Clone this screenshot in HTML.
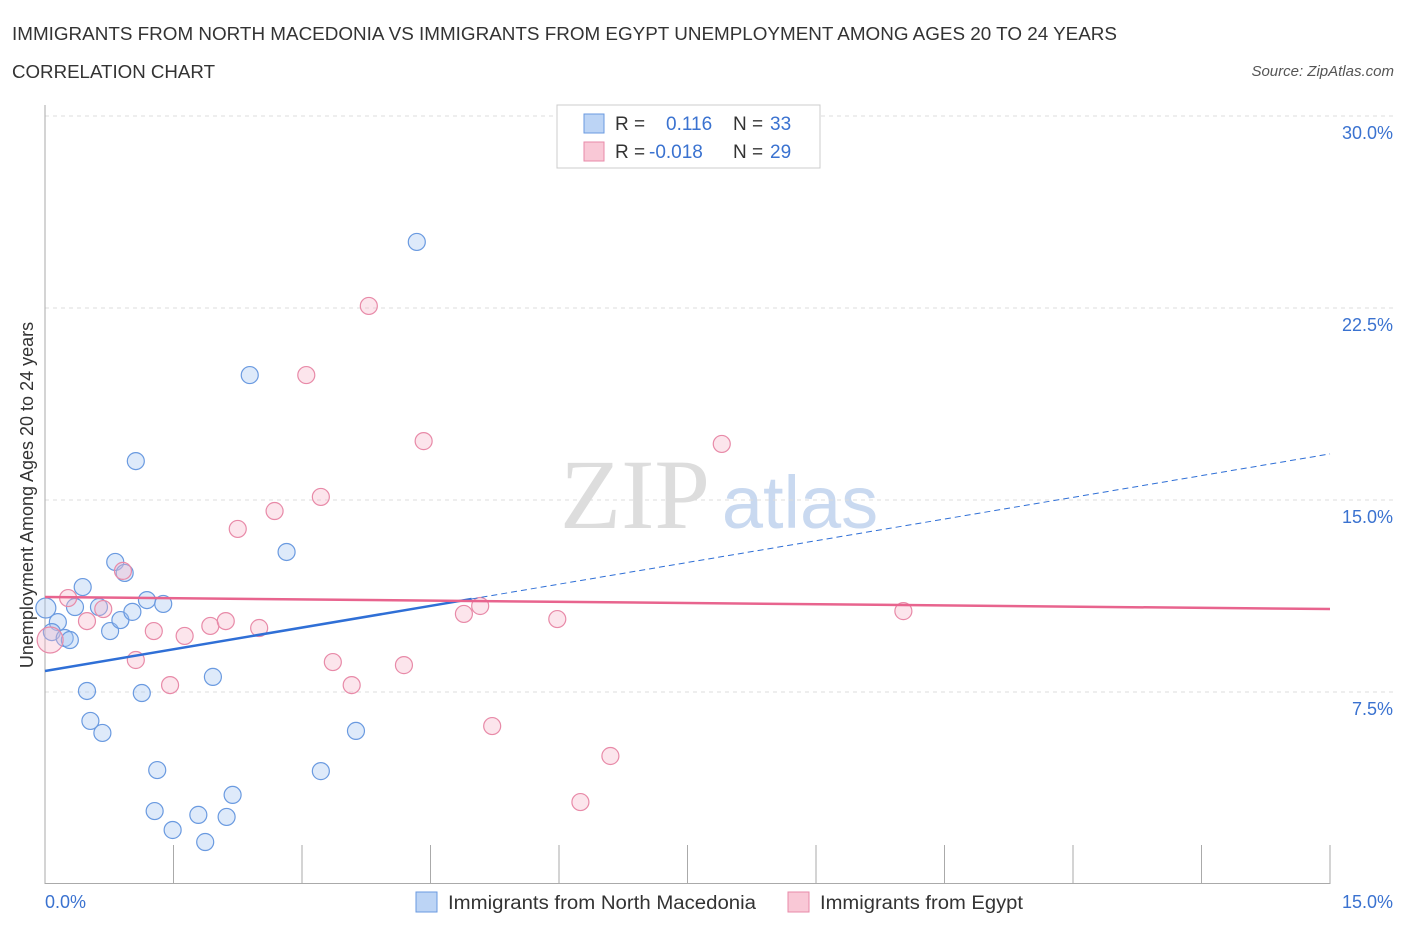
<!DOCTYPE html>
<html><head><meta charset="utf-8"><style>
body{margin:0;background:#fff;font-family:"Liberation Sans",sans-serif;}
svg{display:block}
</style></head><body>
<svg id="chart" width="1406" height="930">
<text x="12" y="40" font-size="18" fill="#333" textLength="1105" lengthAdjust="spacingAndGlyphs">IMMIGRANTS FROM NORTH MACEDONIA VS IMMIGRANTS FROM EGYPT UNEMPLOYMENT AMONG AGES 20 TO 24 YEARS</text>
<text x="12" y="78" font-size="18" fill="#333" textLength="203" lengthAdjust="spacingAndGlyphs">CORRELATION CHART</text>
<text x="1394" y="76" font-size="15" fill="#555" font-style="italic" text-anchor="end">Source: ZipAtlas.com</text>
<g>
<text x="635" y="528" font-size="100" fill="#ddd" text-anchor="middle" font-family="Liberation Serif,serif">ZIP</text>
<text x="800" y="528" font-size="74" fill="#c9d9f0" text-anchor="middle">atlas</text>
</g>
<g id="grid"></g>
<g id="axes"></g>
<g id="marks"></g>
<g>
<rect x="557" y="105" width="263" height="63" fill="#fff" stroke="#ccc"/>
<rect x="584" y="114" width="20" height="19" fill="#bcd4f5" stroke="#6a9ae0"/>
<rect x="584" y="142" width="20" height="19" fill="#f9c8d6" stroke="#e88aa8"/>
<text x="615" y="130" font-size="19" fill="#333">R = </text><text x="666" y="130" font-size="19" fill="#3a72d0">0.116</text>
<text x="733" y="130" font-size="19" fill="#333">N = </text><text x="770" y="130" font-size="19" fill="#3a72d0">33</text>
<text x="615" y="158" font-size="19" fill="#333">R = </text><text x="649" y="158" font-size="19" fill="#3a72d0">-0.018</text>
<text x="733" y="158" font-size="19" fill="#333">N = </text><text x="770" y="158" font-size="19" fill="#3a72d0">29</text>
</g>
<g>
<rect x="416" y="892" width="21" height="20" fill="#bcd4f5" stroke="#6a9ae0"/>
<text x="448" y="909" font-size="19" fill="#333" textLength="308" lengthAdjust="spacingAndGlyphs">Immigrants from North Macedonia</text>
<rect x="788" y="892" width="21" height="20" fill="#f9c8d6" stroke="#e88aa8"/>
<text x="820" y="909" font-size="19" fill="#333" textLength="203" lengthAdjust="spacingAndGlyphs">Immigrants from Egypt</text>
</g>
<text x="45" y="908" font-size="18" fill="#3a72d0">0.0%</text>
<text x="1393" y="908" font-size="18" fill="#3a72d0" text-anchor="end">15.0%</text>
<text transform="translate(33,495) rotate(-90)" font-size="18" fill="#333" text-anchor="middle">Unemployment Among Ages 20 to 24 years</text>
</svg>
<script>
const blueX=[0.01,0.15,0.08,0.23,0.29,0.35,0.44,0.63,0.76,0.82,0.88,0.93,1.02,1.06,1.19,1.38,0.49,0.53,0.67,1.13,1.31,1.28,1.49,1.79,1.87,2.12,2.19,1.96,2.39,2.82,3.22,3.63,4.34];
const blueY=[10.78,10.23,9.84,9.61,9.53,10.82,11.6,10.82,9.88,12.58,10.31,12.15,10.63,16.52,11.09,10.94,7.54,6.37,5.9,7.46,4.45,2.85,2.11,2.7,1.64,2.62,3.48,8.09,19.88,12.97,4.41,5.98,25.08];
const pinkX=[0.06,0.27,0.49,0.68,0.91,1.06,1.27,1.46,1.63,1.93,2.11,2.25,2.5,2.68,3.05,3.22,3.36,3.58,3.78,4.19,4.42,4.89,5.08,5.22,5.98,6.25,6.6,7.9,10.02];
const pinkY=[9.53,11.17,10.27,10.74,12.23,8.75,9.88,7.77,9.69,10.08,10.27,13.87,10.0,14.57,19.88,15.12,8.67,7.77,22.58,8.55,17.3,10.55,10.86,6.17,10.35,3.2,5.0,17.19,10.66];
const blueTrend=[8.32,16.8];
const pinkTrend=[11.21,10.74];
const blueSolidEnd=4.98;
const yTicks=[7.5,15,22.5,30];
const yTickLabels=["7.5%","15.0%","22.5%","30.0%"];
const xTicks=[0,1.5,3,4.5,6,7.5,9,10.5,12,13.5,15];

const X=v=>45+v/15*1285, Y=v=>884-v/30*768;
const NS="http://www.w3.org/2000/svg";
function mk(p,t,a){const e=document.createElementNS(NS,t);for(const k in a)e.setAttribute(k,a[k]);p.appendChild(e);return e;}
const grid=document.getElementById('grid'),axes=document.getElementById('axes'),marks=document.getElementById('marks');
yTicks.forEach((t,i)=>{
 const l=mk(grid,'line',{x1:45,x2:1395,y1:Y(t),y2:Y(t),stroke:'#ddd','stroke-dasharray':'4,4'});
 
 
 const tx=mk(axes,'text',{x:1393,y:Y(t)+23,'font-size':18,fill:'#3a72d0','text-anchor':'end'});
 tx.textContent=yTickLabels[i];
 
 
});
const ya=mk(axes,'line',{x1:45,x2:45,y1:105,y2:884,stroke:'#aaa'});


const xa=mk(axes,'line',{x1:45,x2:1330,y1:883.5,y2:883.5,stroke:'#aaa'});


xTicks.forEach(t=>{
 const l=mk(axes,'line',{x1:X(t),x2:X(t),y1:845,y2:884,stroke:'#aaa'});
 
 
});
blueX.forEach((x,i)=>{
 const c=mk(marks,'circle',{cx:X(x),cy:Y(blueY[i]),r:i==0?10:8.5,fill:'rgba(160,195,240,0.35)',stroke:'#6a9ae0','stroke-width':1.2});
 
 
});
pinkX.forEach((x,i)=>{
 const c=mk(marks,'circle',{cx:X(x),cy:Y(pinkY[i]),r:i==0?13:8.5,fill:'rgba(245,180,200,0.35)',stroke:'#e88aa8','stroke-width':1.2});
 
 
});
const by=x=>blueTrend[0]+(blueTrend[1]-blueTrend[0])*x/15;
const bl=mk(marks,'line',{x1:X(0),y1:Y(by(0)),x2:X(blueSolidEnd),y2:Y(by(blueSolidEnd)),stroke:'#2f6fd6','stroke-width':2.5});


const bd=mk(marks,'line',{x1:X(blueSolidEnd),y1:Y(by(blueSolidEnd)),x2:X(15),y2:Y(by(15)),stroke:'#2f6fd6','stroke-width':1,'stroke-dasharray':'6,4'});


const pl=mk(marks,'line',{x1:X(0),y1:Y(pinkTrend[0]),x2:X(15),y2:Y(pinkTrend[1]),stroke:'#e8648e','stroke-width':2.5});


</script>
</body></html>
